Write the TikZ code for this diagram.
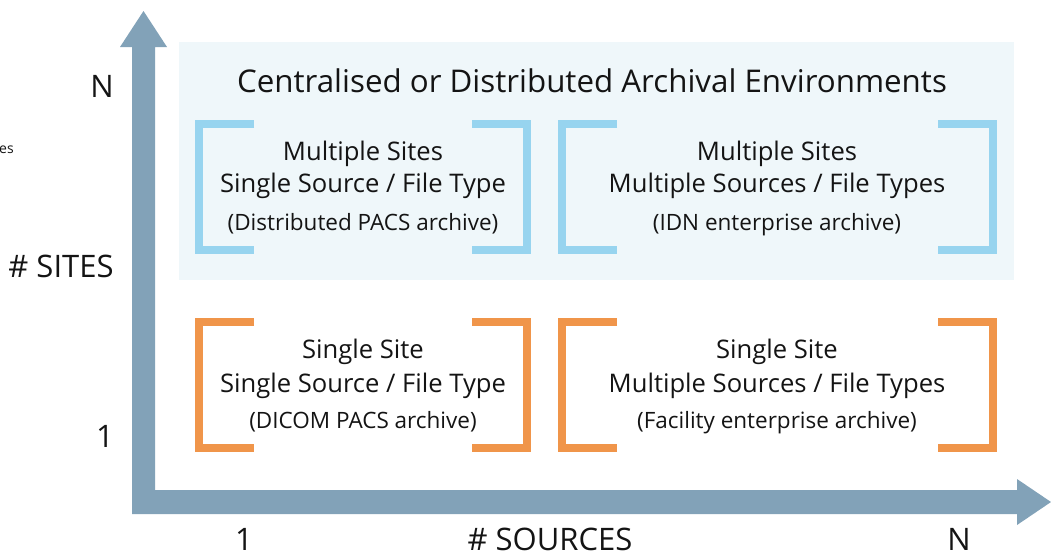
\documentclass[tikz,border=0pt]{standalone}
\usepackage{fontspec}
\setmainfont{Open Sans}
\definecolor{axiscol}{RGB}{130,162,184}
\definecolor{bgcol}{RGB}{239,247,250}
\definecolor{bluebr}{RGB}{151,212,239}
\definecolor{orangebr}{RGB}{240,149,74}
\definecolor{txt}{RGB}{20,20,20}
\tikzset{
  bracket/.style={line width=8pt, miter limit=10},
  lbl/.style={anchor=base, inner sep=0pt, text=txt},
  ttl/.style={lbl, font=\fontsize{31.3}{34}\selectfont},
  big/.style={lbl, font=\fontsize{25.6}{28}\selectfont},
  small/.style={lbl, font=\fontsize{22.5}{25}\selectfont},
  axlbl/.style={lbl, font=\fontsize{31}{34}\selectfont},
}
\begin{document}
\begin{tikzpicture}[x=1pt,y=-1pt]
\useasboundingbox (0,0) rectangle (1051,555);
% background panel
\fill[bgcol] (179,42) rectangle (1014,280);
% axes
\fill[axiscol] (132,514) -- (132,47) -- (120,47) -- (143.5,11) -- (167,47) -- (155,47)
  -- (155,490) -- (1017,490) -- (1017,479) -- (1051,502) -- (1017,525) -- (1017,514) -- cycle;
% brackets
\foreach \y/\c in {124/bluebr, 322/orangebr}{
  \draw[bracket, \c] (254,\y) -- (199,\y) -- (199,\y+126) -- (254,\y+126);
  \draw[bracket, \c] (472,\y) -- (527,\y) -- (527,\y+126) -- (472,\y+126);
  \draw[bracket, \c] (617,\y) -- (562,\y) -- (562,\y+126) -- (617,\y+126);
  \draw[bracket, \c] (938,\y) -- (993,\y) -- (993,\y+126) -- (938,\y+126);
}
% title
\node[ttl] (title) at (592,92) {Centralised or Distributed Archival Environments};
% boxes text
\node[big] (a1) at (363,160) {Multiple Sites};
\node[big] (a2) at (363,192) {Single Source / File Type};
\node[small] (a3) at (363,230) {(Distributed PACS archive)};
\node[big] (b1) at (777,160) {Multiple Sites};
\node[big] (b2) at (777,192) {Multiple Sources / File Types};
\node[small] (b3) at (777,230) {(IDN enterprise archive)};
\node[big] (c1) at (363,358) {Single Site};
\node[big] (c2) at (363,392) {Single Source / File Type};
\node[small] (c3) at (363,428) {(DICOM PACS archive)};
\node[big] (d1) at (777,358) {Single Site};
\node[big] (d2) at (777,392) {Multiple Sources / File Types};
\node[small] (d3) at (777,428) {(Facility enterprise archive)};
% axis labels
\node[axlbl] (yN) at (102,97) {N};
\node[axlbl] (ysites) at (61,277) {\# SITES};
\node[axlbl] (y1) at (105,447) {1};
\node[axlbl] (x1) at (244,550) {1};
\node[axlbl] (xsources) at (550,550) {\# SOURCES};
\node[axlbl] (xN) at (959,550) {N};
\node[lbl, anchor=base west, font=\fontsize{14}{16}\selectfont] (frag) at (-1,153) {es};
\end{tikzpicture}
\end{document}
